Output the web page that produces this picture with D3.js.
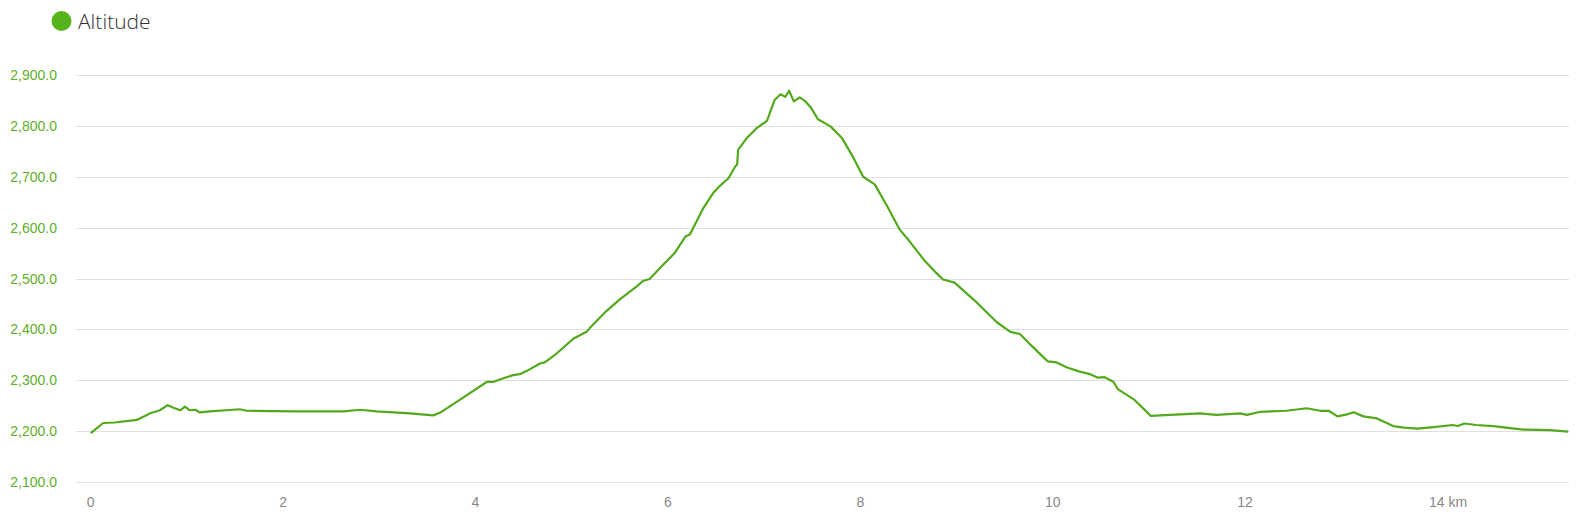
<!DOCTYPE html>
<html><head><meta charset="utf-8">
<script src="https://cdn.jsdelivr.net/npm/d3@7"></script>
<style>body{margin:0;background:#fff;}</style>
</head><body>
<svg id="c" width="1581" height="521"></svg>
<script>
const seriesName = "Altitude";
const distanceKm = [0,0.13,0.25,0.48,0.62,0.72,0.80,0.86,0.93,0.98,1.03,1.09,1.13,1.24,1.55,1.62,2.11,2.63,2.80,2.97,3.32,3.56,3.63,3.84,4.12,4.19,4.29,4.39,4.46,4.53,4.67,4.72,4.84,5.02,5.16,5.19,5.36,5.50,5.68,5.74,5.81,5.92,6.07,6.18,6.23,6.37,6.47,6.54,6.63,6.70,6.72,6.73,6.82,6.92,7.03,7.11,7.17,7.22,7.26,7.31,7.37,7.43,7.49,7.56,7.69,7.81,7.93,8.03,8.15,8.28,8.41,8.50,8.66,8.79,8.86,8.98,9.21,9.42,9.56,9.66,9.78,9.90,9.95,10.04,10.15,10.28,10.39,10.47,10.54,10.63,10.68,10.84,11.02,11.53,11.70,11.95,12.02,12.16,12.43,12.64,12.78,12.87,12.96,13.06,13.13,13.23,13.37,13.54,13.65,13.79,13.96,14.16,14.21,14.28,14.40,14.58,14.89,15.17,15.36];
const altitudeM = [2196,2216,2217,2222,2235,2241,2251,2246,2241,2248,2241,2242,2237,2239,2243,2240,2239,2239,2242,2239,2235,2231,2236,2262,2297,2297,2304,2310,2312,2318,2333,2335,2352,2382,2396,2403,2436,2459,2485,2495,2499,2521,2550,2582,2587,2639,2668,2682,2697,2720,2724,2753,2776,2795,2810,2851,2862,2857,2869,2848,2856,2848,2835,2813,2799,2776,2737,2700,2685,2642,2596,2576,2537,2511,2498,2492,2453,2414,2395,2391,2368,2346,2337,2335,2325,2317,2312,2305,2306,2297,2282,2263,2230,2235,2232,2235,2232,2238,2240,2245,2240,2240,2229,2233,2237,2229,2225,2210,2207,2205,2208,2212,2210,2215,2212,2210,2203,2202,2199];
const yTicks = [2100,2200,2300,2400,2500,2600,2700,2800,2900];
const xTicks = [0,2,4,6,8,10,12,14];

const data = distanceKm.map((d,i)=>({x:d,y:altitudeM[i]}));
const svg = d3.select("#c");
const gridLeft = 76, gridRight = 1569;
const x = d3.scaleLinear().domain([0,15.36]).range([90.7,1568.3]);
const y = d3.scaleLinear().domain([2100,2900]).range([482,75]);

svg.append("g").selectAll("line").data(yTicks).join("line")
  .attr("x1",gridLeft).attr("x2",gridRight)
  .attr("y1",d=>Math.round(y(d))+0.5).attr("y2",d=>Math.round(y(d))+0.5)
  .attr("stroke","#e0e0e0").attr("stroke-width",1);

const fmt = d3.format(",.1f");
svg.append("g").selectAll("text").data(yTicks).join("text")
  .attr("x",57).attr("y",d=>y(d)+5)
  .attr("text-anchor","end")
  .attr("font-family","'Liberation Sans', Arial, sans-serif")
  .attr("font-size",14).attr("fill","#5eae28")
  .text(d=>fmt(d));

svg.append("g").selectAll("text").data(xTicks).join("text")
  .attr("x",d=>x(d)).attr("y",507)
  .attr("text-anchor",d=>d===14?"start":"middle")
  .attr("dx",d=>d===14?-8.5:0)
  .attr("font-family","'Liberation Sans', Arial, sans-serif")
  .attr("font-size",14).attr("fill","#888")
  .text(d=>d===14?"14 km":d);

svg.append("path").datum(data)
  .attr("fill","none").attr("stroke","#52a91b").attr("stroke-width",2.2)
  .attr("stroke-linejoin","round")
  .attr("d",d3.line().x(d=>x(d.x)).y(d=>y(d.y)));

svg.append("circle").attr("cx",61.5).attr("cy",21).attr("r",10).attr("fill","#55b31b");
svg.append("text").attr("x",78).attr("y",29)
  .attr("font-family","'Open Sans', 'Noto Sans', sans-serif").attr("font-weight",300)
  .attr("font-size",21).attr("fill","#333").text(seriesName);
</script>
</body></html>
